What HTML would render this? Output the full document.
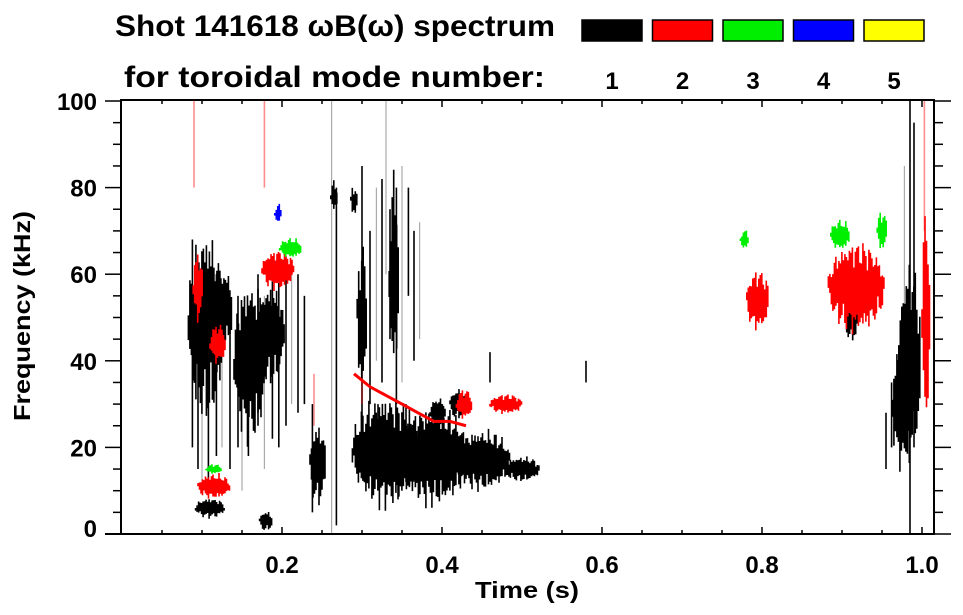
<!DOCTYPE html>
<html><head><meta charset="utf-8"><style>
html,body{margin:0;padding:0;background:#fff;}
svg{display:block;font-family:"Liberation Sans",Arial,sans-serif;font-weight:bold;}
</style></head><body>
<svg id="chart" width="963" height="615" viewBox="0 0 963 615">
<g>
<text x="115" y="36" font-size="30" textLength="440" lengthAdjust="spacingAndGlyphs">Shot 141618 ωB(ω) spectrum</text>
<text x="124" y="87" font-size="30" textLength="421" lengthAdjust="spacingAndGlyphs">for toroidal mode number:</text>
</g>
<g id="legend"></g>
<g id="marks"></g>
<g id="axes"></g>
<text x="0" y="0" font-size="23" text-anchor="middle" textLength="210" lengthAdjust="spacingAndGlyphs" transform="translate(30 316) rotate(-90)">Frequency (kHz)</text>
<text x="527" y="598" font-size="23" text-anchor="middle" textLength="104" lengthAdjust="spacingAndGlyphs">Time (s)</text>
</svg>
<script>
// ---- data ----
const modeColors = ["#aaaaaa","#000000","#ff0000","#00ee00","#0000ff","#ffff00"];
const legendModes = [1,2,3,4,5];
const xTicks = [0.2,0.4,0.6,0.8,1.0];
const xTickLabels = ["0.2","0.4","0.6","0.8","1.0"];
const yTicks = [0,20,40,60,80,100];
const yTickLabels = ["0","20","40","60","80","100"];
// blobs: centre time (s), centre freq (kHz), half-width (s), half-height (kHz), mode
const blobT  = [0.105,0.128,0.160,0.185,0.110,0.180,0.245,0.330,0.390,0.450,0.500,0.395,0.420,0.985,0.975,0.912,0.095,0.120,0.195,0.115,0.795,0.918,1.005,0.428,0.480,0.211,0.115,0.778,0.898,0.950,0.195,0.265,0.290,0.300,0.340];
const blobF  = [48,52,40,46,6,3,16,19,18,17,15,28,30,40,30,50,57,44,61,11,54,57,50,30,30,66,15,68,69,70,74,78,77,50,60];
const blobDT = [0.022,0.010,0.020,0.018,0.018,0.008,0.010,0.042,0.042,0.035,0.022,0.010,0.010,0.014,0.012,0.008,0.006,0.010,0.020,0.020,0.014,0.035,0.005,0.010,0.020,0.014,0.010,0.005,0.012,0.006,0.004,0.004,0.004,0.006,0.006];
const blobDF = [19,8,16,10,2,2,8,11,10,6,2.5,3,3,20,13,5,7,4,4,2.5,6,9,22,3,2,2,1,2,3,4,2,3,3,15,20];
const blobMode=[1,1,1,1,1,1,1,1,1,1,1,1,1,1,1,1,2,2,2,2,2,2,2,2,2,3,3,3,3,3,4,1,1,1,1];
// streaks: time (s), lower freq, upper freq (kHz), mode (0 = grey)
const streakT  = [0.088,0.095,0.100,0.108,0.118,0.125,0.135,0.145,0.150,0.158,0.170,0.178,0.188,0.196,0.205,0.212,0.220,0.228,0.238,0.262,0.268,0.300,0.310,0.318,0.325,0.335,0.343,0.350,0.358,0.365,0.372,0.240,0.300,0.985,0.990,0.978,1.003,0.090,0.178,0.330,0.460,0.580,0.955,0.962,0.320,0.345,0.355];
const streakF1 = [20,15,10,12,18,20,15,20,10,18,25,15,22,20,25,30,28,30,5,0,2,20,30,40,35,45,30,35,55,40,45,25,30,0,20,30,70,80,80,60,35,35,15,20,10,8,12];
const streakF2 = [68,60,55,58,60,50,52,55,45,50,60,55,62,58,60,62,60,55,30,100,80,85,70,80,82,75,80,85,80,70,72,37,40,100,95,85,100,100,100,100,42,40,28,35,30,28,30];
const streakMode=[1,1,0,1,1,0,1,1,0,1,1,0,1,1,1,0,1,1,1,0,1,1,1,0,1,1,1,0,1,1,0,2,2,1,1,0,2,2,2,0,1,1,1,1,1,1,1];
// red diagonal ridge points (time, freq)
const ridgeT = [0.290,0.310,0.330,0.350,0.370,0.390,0.410,0.430];
const ridgeF = [37,34,32,30,28,26,26,25];

// ---- scales ----
const X0=122, XS=800, Y0=534, YS=4.33;
const xs = t => X0 + XS*t;
const ys = f => Y0 - YS*f;
const NS="http://www.w3.org/2000/svg";
function mk(tag, attrs, parent){const e=document.createElementNS(NS,tag);for(const k in attrs)e.setAttribute(k,attrs[k]);parent.appendChild(e);return e;}
const marks=document.getElementById('marks');
const axes=document.getElementById('axes');
const legend=document.getElementById('legend');

const defs=mk('defs',{},document.getElementById('chart'));
const cp=mk('clipPath',{id:'pc'},defs);
mk('rect',{x:121,y:100,width:813,height:434},cp);
marks.setAttribute('clip-path','url(#pc)');

for(let i=0;i<streakT.length;i++){
  const m=streakMode[i];
  const l=mk('line',{x1:xs(streakT[i]),x2:xs(streakT[i]),y1:ys(streakF1[i]),y2:ys(streakF2[i]),stroke:modeColors[m],'stroke-width':m===0?1.2:1.6,'stroke-opacity':m===2?0.45:1},marks);
  
  
}
for(let i=0;i<blobT.length;i++){
  const g=mk('g',{},marks);
  
  
  const cx=xs(blobT[i]), hw=blobDT[i]*XS, cy=ys(blobF[i]), hh=blobDF[i]*YS;
  const col=modeColors[blobMode[i]];
  let d='';
  for(let x=-hw;x<=hw;x+=1.5){
    const r=Math.sqrt(Math.max(0,1-(x/hw)*(x/hw)));
    const j=0.75+0.25*Math.sin(x*1.7+i*3.1)*Math.cos(x*0.63+i);
    const h=hh*Math.max(0.15,r*j*1.15);
    const off=hh*0.15*Math.sin(x*0.9+i*2);
    d+='M'+(cx+x).toFixed(1)+' '+(cy-h+off).toFixed(1)+'v'+(2*h).toFixed(1);
  }
  mk('path',{d:d,stroke:col,'stroke-width':1.6},g);
}
let rd='';
for(let i=0;i<ridgeT.length;i++) rd+=(i?'L':'M')+xs(ridgeT[i])+' '+ys(ridgeF[i]);
const ridge=mk('path',{d:rd,stroke:'#ff0000','stroke-width':3,fill:'none'},marks);



mk('path',{d:'M105 534H934V100H121V534',stroke:'#000','stroke-width':2,fill:'none'},axes);
for(let k=1;k<=20;k++){
  const t=k*0.05, x=xs(t); const major=k%4===0;
  mk('line',{x1:x,x2:x,y1:534,y2:major?527:530,stroke:'#000','stroke-width':1.5},axes);
  mk('line',{x1:x,x2:x,y1:100,y2:major?107:104,stroke:'#000','stroke-width':1.5},axes);
}
for(let i=0;i<xTicks.length;i++){
  const t=mk('text',{x:xs(xTicks[i]),y:573,'font-size':24,'text-anchor':'middle'},axes);
  t.textContent=xTickLabels[i];
  
  
}
for(let f=0;f<=100;f+=5){
  const y=ys(f), major=f%20===0;
  mk('line',{x1:121,x2:major?105:113,y1:y,y2:y,stroke:'#000','stroke-width':1.5},axes);
  mk('line',{x1:934,x2:major?951:943,y1:y,y2:y,stroke:'#000','stroke-width':1.5},axes);
}
for(let i=0;i<yTicks.length;i++){
  const t=mk('text',{x:97,y:ys(yTicks[i])+9 - (yTicks[i]===0?6:0),'font-size':24,'text-anchor':'end'},axes);
  t.textContent=yTickLabels[i];
  
  
}
for(let i=0;i<legendModes.length;i++){
  const x=582+70.5*i;
  const r=mk('rect',{x:x,y:20,width:60,height:21,fill:modeColors[legendModes[i]],stroke:'#000','stroke-width':1.5},legend);
  
  
  const t=mk('text',{x:x+30,y:89,'font-size':24,'text-anchor':'middle'},legend);
  t.textContent=String(legendModes[i]);
  
  
}
</script>
</body></html>
